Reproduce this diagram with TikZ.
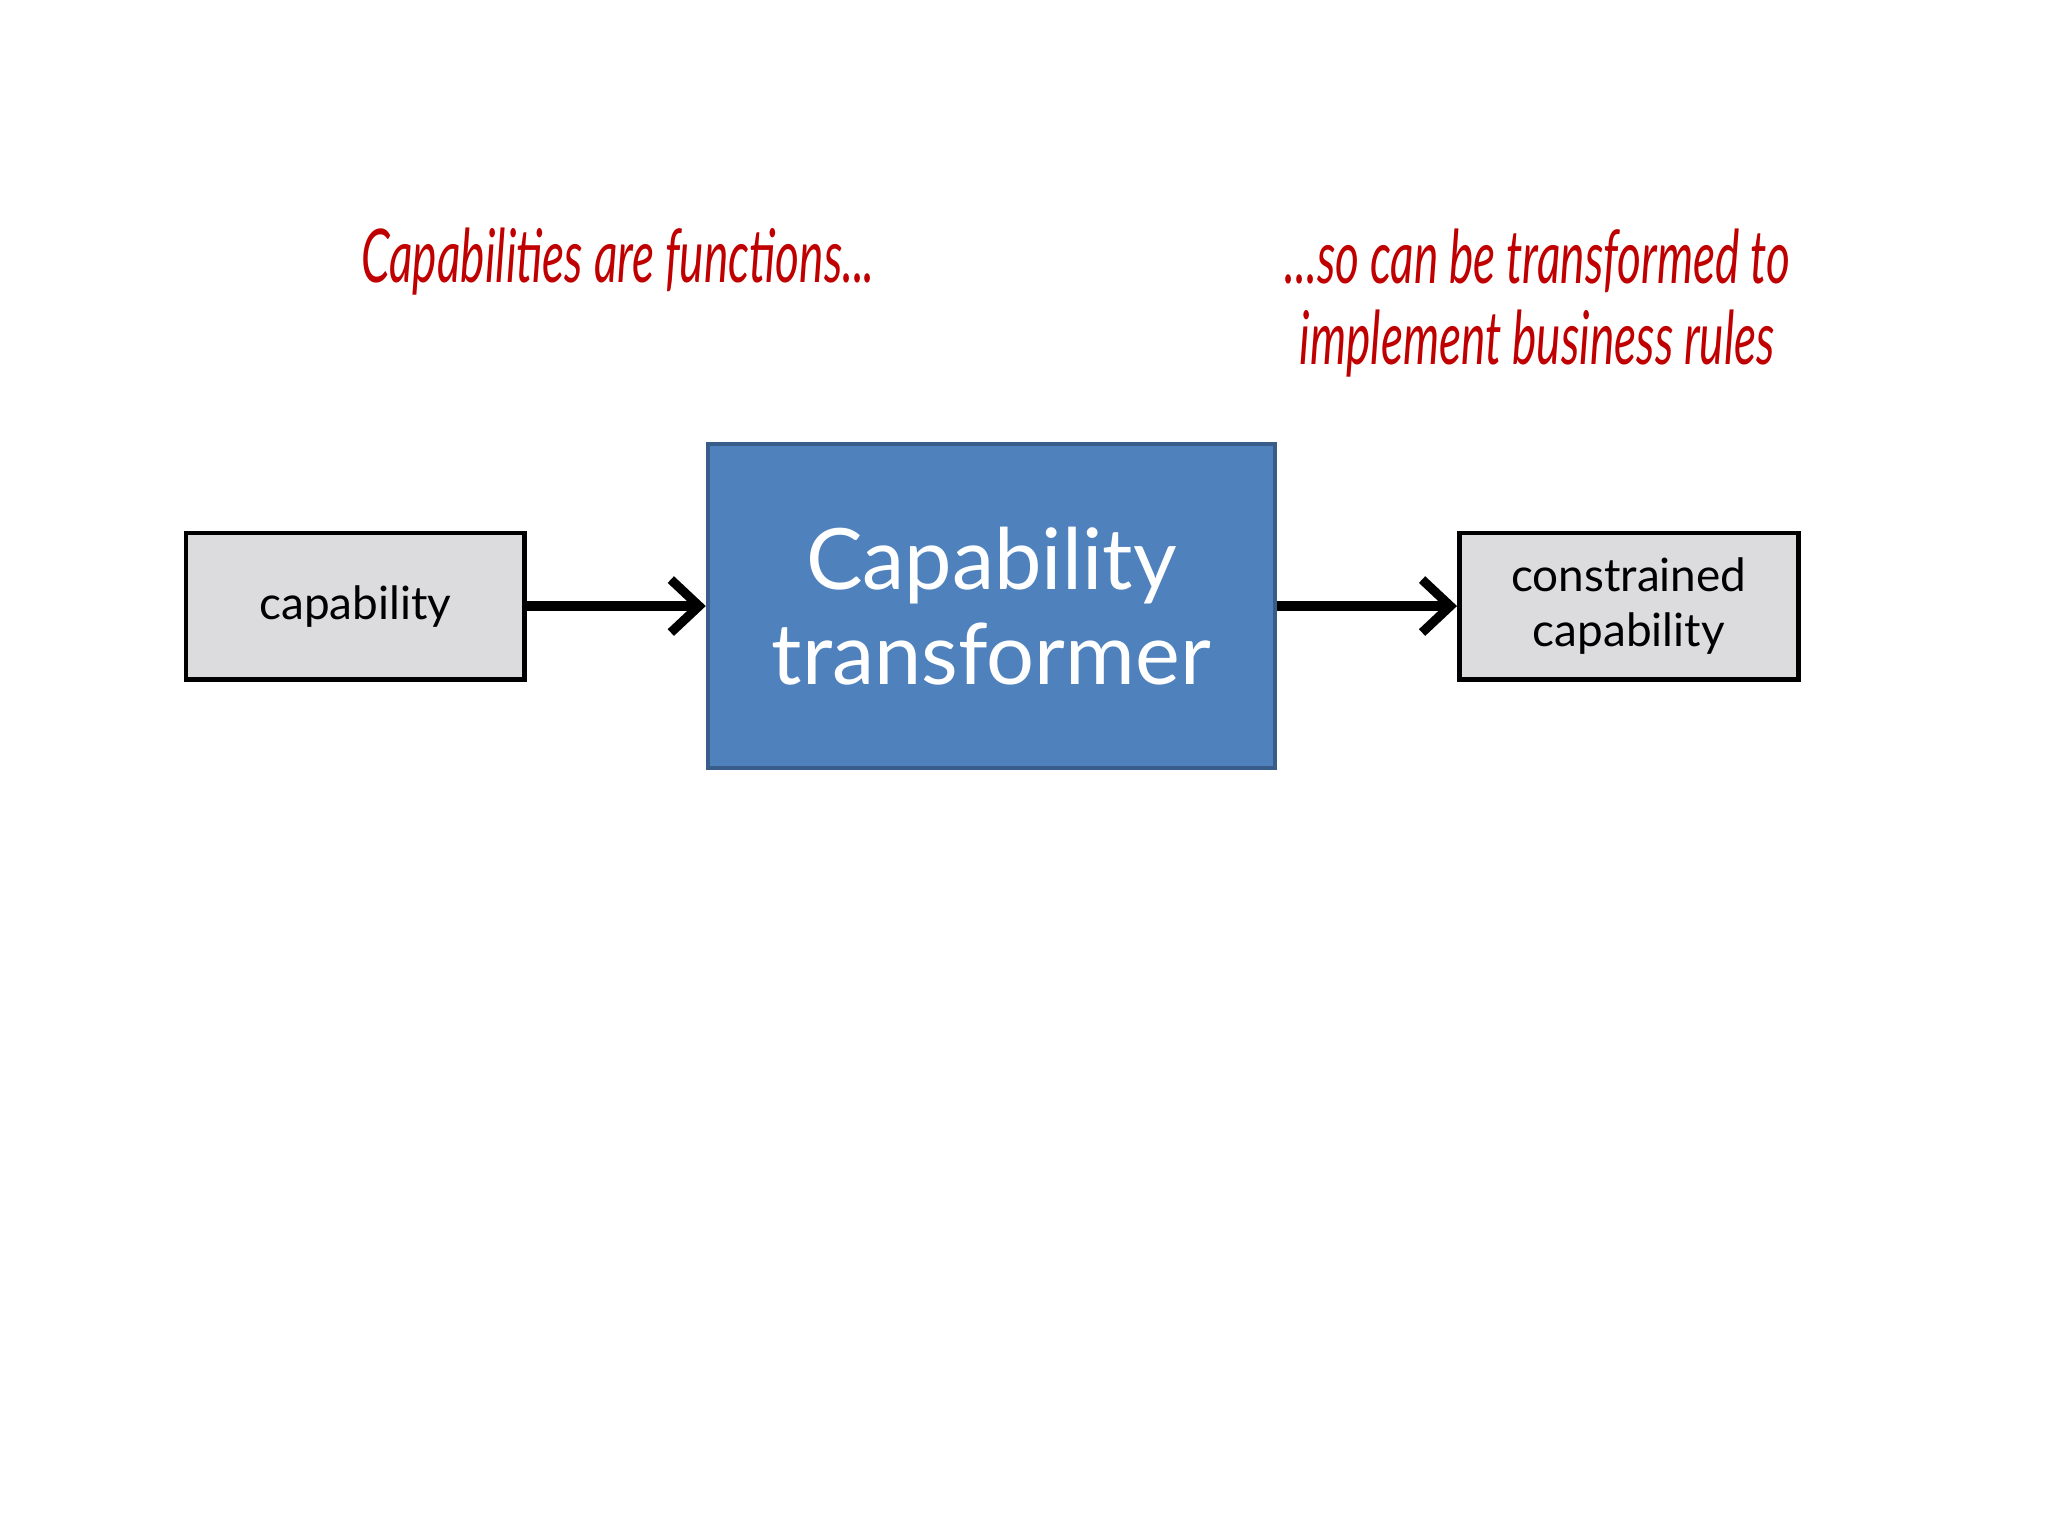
\documentclass[tikz,border=0pt]{standalone}
\usepackage{fontspec}
\setmainfont{Lato}
\usetikzlibrary{arrows.meta}
\definecolor{redt}{HTML}{C00000}
\definecolor{blueb}{HTML}{4F81BD}
\definecolor{blueedge}{HTML}{385D8A}
\definecolor{greyb}{HTML}{DCDCDE}
\tikzset{
  small/.style={draw=black,line width=1.3pt,fill=greyb,minimum width=96pt,minimum height=41.5pt,font=\fontsize{13}{15.5}\selectfont,align=center,inner sep=0pt},
  big/.style={draw=blueedge,line width=1.2pt,fill=blueb,minimum width=160.6pt,minimum height=91.8pt,text=white,font=\fontsize{24}{27}\selectfont,align=center,inner sep=0pt},
  conn/.style={line width=2.6pt,-{Straight Barb[length=8pt,width=15pt,line width=2.6pt]}},
  hand/.style={text=redt,font=\fontsize{21}{24}\selectfont\itshape,xscale=0.62,inner sep=0pt}
}
\begin{document}
\begin{tikzpicture}[x=0.37pt,y=-0.37pt]
\useasboundingbox[fill=white] (0,0) rectangle (1568,1176);
\node[small] (a) at (272,464) {capability};
\node[big] (b) at (759,464) {Capability\\transformer};
\node[small] (c) at (1247,464) {constrained\\capability};
\draw[conn] (a.east) -- (b.west);
\draw[conn] (b.east) -- (c.west);
\node[hand] (t1) at (473,200) {Capabilities are functions...};
\node[hand] (t2) at (1177,200) {...so can be transformed to};
\node[hand] (t3) at (1177,263) {implement business rules};
\end{tikzpicture}
\end{document}
